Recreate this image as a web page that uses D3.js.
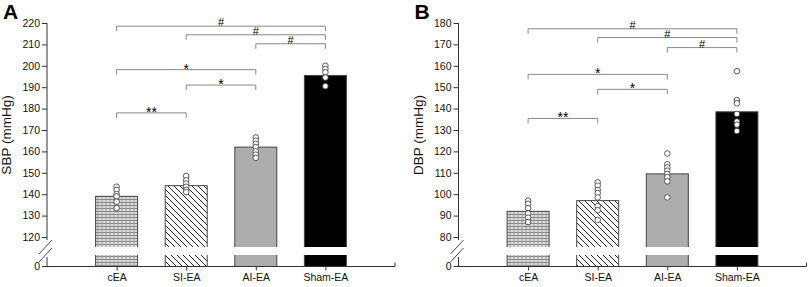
<!DOCTYPE html>
<html lang="en">
<head>
  <meta charset="UTF-8">
  <title>SBP / DBP bar chart</title>
  <script src="https://cdn.jsdelivr.net/npm/d3@7"></script>
  <style>
    body { margin: 0; background: #fff; }
    svg { display: block; font-family: "Liberation Sans", Arial, sans-serif; }
  </style>
</head>
<body>
<svg></svg>
<script>
  const width = 810, height = 287

  const categories = ['cEA', 'SI-EA', 'AI-EA', 'Sham-EA']

  // panel A – systolic
  const sbpMeans = [139, 144, 162, 195.5]
  const sbpDots = [
    [143.5, 142, 140, 139, 136.5, 133.5],
    [148.5, 146.5, 145, 143.5, 142, 141],
    [166.5, 165, 163.5, 162, 160, 158.5, 157],
    [200, 198.5, 197, 194.5, 190.5]
  ]
  const sbpTicks = [120, 130, 140, 150, 160, 170, 180, 190, 200, 210, 220]
  const sbpBrackets = [
    [0, 3, 218.5, '#'], [1, 3, 214.5, '#'], [2, 3, 210.3, '#'],
    [0, 2, 198.2, '*'], [1, 2, 191, '*'], [0, 1, 178, '**']
  ]

  // panel B – diastolic
  const dbpMeans = [92, 97, 109.5, 138.5]
  const dbpDots = [
    [97, 95.5, 93.5, 91, 89, 87],
    [105.5, 104, 102, 100.5, 98.5, 94.5, 92.5, 88],
    [119, 114, 112.5, 111, 109.5, 108, 106, 98.5],
    [157.5, 144, 142.5, 137.5, 134, 132.5, 129.5]
  ]
  const dbpTicks = [80, 90, 100, 110, 120, 130, 140, 150, 160, 170, 180]
  const dbpBrackets = [
    [0, 3, 177.3, '#'], [1, 3, 173.2, '#'], [2, 3, 168.5, '#'],
    [0, 2, 156, '*'], [1, 2, 149, '*'], [0, 1, 135.4, '**']
  ]

  const svg = d3.select('svg')
      .attr('width', width)
      .attr('height', height)
      .attr('viewBox', [0, 0, width, height])

  const defs = svg.append('defs')

  // fine zigzag mesh for cEA
  const zig = defs.append('pattern')
      .attr('id', 'zigzag')
      .attr('patternUnits', 'userSpaceOnUse')
      .attr('width', 4).attr('height', 3)
  zig.append('rect').attr('width', 4).attr('height', 3).attr('fill', '#fff')
  zig.append('path')
      .attr('d', 'M0,0.5 L2,2.5 L4,0.5 M0,2.5 L2,0.5 L4,2.5')
      .attr('fill', 'none').attr('stroke', '#333').attr('stroke-width', 0.7)

  // diagonal hatch for SI-EA
  const hatch = defs.append('pattern')
      .attr('id', 'hatch')
      .attr('patternUnits', 'userSpaceOnUse')
      .attr('width', 6).attr('height', 6)
  hatch.append('rect').attr('width', 6).attr('height', 6).attr('fill', '#fff')
  hatch.append('path')
      .attr('d', 'M0,0 L6,6 M-1,5 L1,7 M5,-1 L7,1')
      .attr('stroke', '#222').attr('stroke-width', 1)

  const fills = ['url(#zigzag)', 'url(#hatch)', '#adadad', '#000']

  function drawPanel({letter, label, means, dots, ticks, brackets, left, right}) {
    const top = 23, breakTop = 247, breakBottom = 255, base = 266.5

    const x = d3.scalePoint()
        .domain(categories)
        .range([left, right])
        .padding(1)

    const y = d3.scaleLinear()
        .domain([ticks[0], ticks[ticks.length - 1]])
        .range([237, top])

    const g = svg.append('g')

    // bars go down to the zero line, then get cut by the break
    g.selectAll('.bar')
        .data(means)
        .join('rect')
        .attr('x', (d, i) => x(categories[i]) - 21)
        .attr('width', 42)
        .attr('y', d => y(d))
        .attr('height', d => base - y(d))
        .attr('fill', (d, i) => fills[i])
        .attr('stroke', '#444')
        .attr('stroke-width', 1)

    g.append('rect')
        .attr('x', left + 2)
        .attr('width', right - left - 2)
        .attr('y', breakTop)
        .attr('height', breakBottom - breakTop)
        .attr('fill', '#fff')

    // individual animals
    dots.forEach((vals, i) => {
      g.selectAll(null)
          .data(vals)
          .join('circle')
          .attr('cx', x(categories[i]))
          .attr('cy', d => y(d))
          .attr('r', 2.8)
          .attr('fill', '#fff')
          .attr('stroke', '#333')
          .attr('stroke-width', 0.8)
    })

    // y axis (upper part)
    const yAxis = g.append('g')
        .attr('transform', `translate(${left},0)`)
        .call(d3.axisLeft(y).tickValues(ticks).tickSize(5).tickSizeOuter(0).tickPadding(2))
    yAxis.select('.domain').attr('d', `M0,${top}V${y(ticks[0]) + 3}`)
    yAxis.selectAll('line, .domain').attr('stroke', '#333')
    yAxis.selectAll('text').attr('font-size', 10.5).attr('fill', '#111')
        .attr('font-family', '"Liberation Sans", Arial, sans-serif')

    // lower stub with the 0 tick
    g.append('path')
        .attr('d', `M${left},257V${base}M${left - 5},${base}H${left}`)
        .attr('stroke', '#333').attr('fill', 'none')
    g.append('text')
        .attr('x', left - 7).attr('y', base)
        .attr('dy', '0.32em')
        .attr('text-anchor', 'end')
        .attr('font-size', 10.5).attr('fill', '#111')
        .text(0)

    // break marks
    g.append('path')
        .attr('d', `M${left - 8},${254}L${left + 5},${240}M${left - 8},${262}L${left + 5},${248}`)
        .attr('stroke', '#333').attr('stroke-width', 0.9)

    // x axis
    const xAxis = g.append('g')
        .attr('transform', `translate(0,${base})`)
        .call(d3.axisBottom(x).tickSize(4).tickSizeOuter(0).tickPadding(3))
    xAxis.select('.domain').attr('d', `M${left},0H${right}V-4`)
    xAxis.selectAll('line, .domain').attr('stroke', '#333')
    xAxis.selectAll('text').attr('font-size', 10.5).attr('fill', '#111')
        .attr('font-family', '"Liberation Sans", Arial, sans-serif')

    // significance brackets
    brackets.forEach(([a, b, v, mark]) => {
      const x1 = x(categories[a]), x2 = x(categories[b]), yy = y(v)
      g.append('path')
          .attr('d', `M${x1},${yy + 5}V${yy}H${x2}V${yy + 5}`)
          .attr('fill', 'none')
          .attr('stroke', '#888')
          .attr('stroke-width', 1)
      g.append('text')
          .attr('x', (x1 + x2) / 2)
          .attr('y', mark === '#' ? yy : yy + 4)
          .attr('text-anchor', 'middle')
          .attr('font-size', mark === '#' ? 11 : 14)
          .attr('fill', '#000')
          .text(mark)
    })

    // y label
    g.append('text')
        .attr('transform', `translate(${left - 36},${(top + breakTop) / 2}) rotate(-90)`)
        .attr('text-anchor', 'middle')
        .attr('font-size', 13.5)
        .attr('fill', '#111')
        .text(label)

    // panel letter
    g.append('text')
        .attr('x', left - 44)
        .attr('y', 18.5)
        .attr('font-size', 21)
        .attr('font-weight', 'bold')
        .attr('fill', '#000')
        .text(letter)
  }

  drawPanel({letter: 'A', label: 'SBP (mmHg)', means: sbpMeans, dots: sbpDots,
    ticks: sbpTicks, brackets: sbpBrackets, left: 47, right: 395})
  drawPanel({letter: 'B', label: 'DBP (mmHg)', means: dbpMeans, dots: dbpDots,
    ticks: dbpTicks, brackets: dbpBrackets, left: 458.5, right: 806.5})
</script>
</body>
</html>
